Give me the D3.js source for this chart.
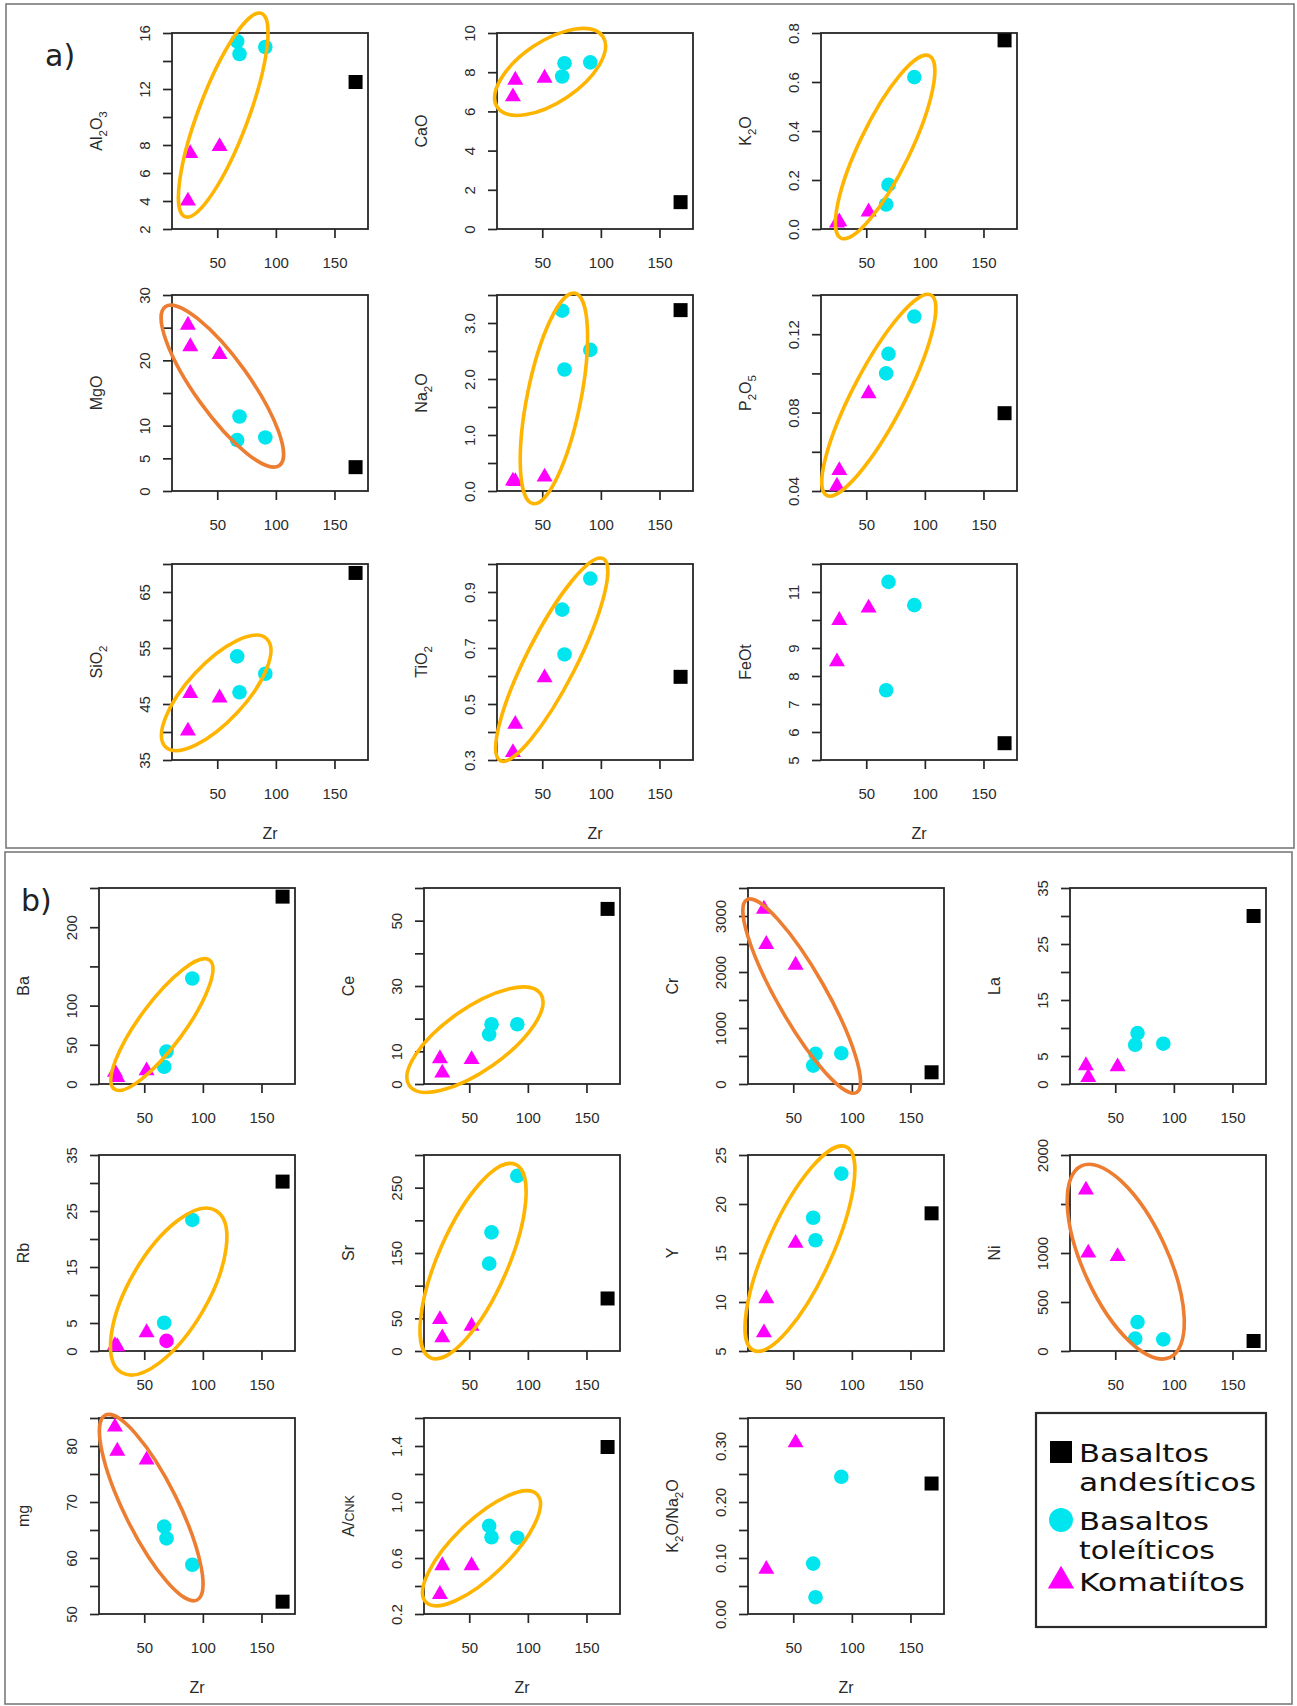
<!DOCTYPE html>
<html>
<head>
<meta charset="utf-8">
<script src="https://cdn.jsdelivr.net/npm/d3@7"></script>
<style>
  body { margin: 0; background: #fff; }
  svg { display: block; }
</style>
</head>
<body>
<script>
// ---------------- data ----------------
// Zr (ppm) of each sample, by group
const zrKomatiitos = [25, 27, 52];
const zrToleiticos = [67, 69, 91];
const zrAndesiticos = [168];
const zrTicks = [50, 100, 150];
const zrDomain = [11.4, 178.6];

// each variable: [komatiítos], [basaltos toleíticos], [basaltos andesíticos]
const Al2O3 = [[4.0, 7.4, 7.9], [15.4, 14.5, 15.0], [12.5]];
const CaO = [[6.75, 7.6, 7.7], [7.78, 8.46, 8.5], [1.37]];
const K2O = [[0.025, 0.03, 0.07], [0.10, 0.18, 0.62], [0.77]];
const MgO = [[25.4, 22.1, 20.9], [7.8, 11.4, 8.2], [3.65]];
const Na2O = [[0.18, 0.17, 0.25], [3.22, 2.17, 2.52], [3.23]];
const P2O5 = [[0.0425, 0.0505, 0.0897], [0.100, 0.110, 0.129], [0.0797]];
const SiO2 = [[40.2, 46.9, 46.1], [53.5, 47.1, 50.4], [68.4]];
const TiO2 = [[0.327, 0.428, 0.594], [0.837, 0.677, 0.948], [0.597]];
const FeOt = [[8.51, 9.99, 10.43], [7.49, 11.36, 10.53], [5.6]];
const Ba = [[15, 8.5, 17], [22, 41.5, 134.6], [239]];
const Ce = [[7.8, 3.4, 7.5], [15.2, 18.3, 18.3], [53.6]];
const Cr = [[3123, 2495, 2124], [329, 538, 550], [209]];
const La = [[3.3, 1.2, 3.1], [7.0, 9.1, 7.2], [30.0]];
const Rb = [[1.0, 0.8, 3.3], [5.05, 1.8, 23.4], [30.25]];
const Sr = [[48.3, 20.4, 38.1], [133.7, 181.5, 268], [80.4]];
const Y = [[6.87, 10.35, 16.0], [18.6, 16.3, 23.1], [19.05]];
const Ni = [[1643, 1000, 965], [126, 295, 119], [102]];
const mg = [[83.4, 79.1, 77.5], [65.6, 63.5, 58.8], [52.2]];
const ACNK = [[0.341, 0.546, 0.546], [0.83, 0.748, 0.745], [1.393]];
const K2ONa2O = [[null, 0.080, 0.306], [0.090, 0.030, 0.245], [0.233]];

// y-axis tick values and the ones that carry a label
const ticksAl2O3 = [2, 4, 6, 8, 10, 12, 14, 16], labAl2O3 = [2, 4, 6, 8, 12, 16];
const ticksCaO = [0, 2, 4, 6, 8, 10], labCaO = [0, 2, 4, 6, 8, 10];
const ticksK2O = [0, 0.2, 0.4, 0.6, 0.8], labK2O = [0, 0.2, 0.4, 0.6, 0.8];
const ticksMgO = [0, 5, 10, 15, 20, 25, 30], labMgO = [0, 5, 10, 20, 30];
const ticksNa2O = [0, 0.5, 1, 1.5, 2, 2.5, 3, 3.5], labNa2O = [0, 1, 2, 3];
const ticksP2O5 = [0.04, 0.06, 0.08, 0.10, 0.12, 0.14], labP2O5 = [0.04, 0.08, 0.12];
const ticksSiO2 = [35, 40, 45, 50, 55, 60, 65, 70], labSiO2 = [35, 45, 55, 65];
const ticksTiO2 = [0.3, 0.4, 0.5, 0.6, 0.7, 0.8, 0.9, 1.0], labTiO2 = [0.3, 0.5, 0.7, 0.9];
const ticksFeOt = [5, 6, 7, 8, 9, 10, 11, 12], labFeOt = [5, 6, 7, 8, 9, 11];
const ticksBa = [0, 50, 100, 150, 200, 250], labBa = [0, 50, 100, 200];
const ticksCe = [0, 10, 20, 30, 40, 50, 60], labCe = [0, 10, 30, 50];
const ticksCr = [0, 500, 1000, 1500, 2000, 2500, 3000, 3500], labCr = [0, 1000, 2000, 3000];
const ticksLa = [0, 5, 10, 15, 20, 25, 30, 35], labLa = [0, 5, 15, 25, 35];
const ticksRb = [0, 5, 10, 15, 20, 25, 30, 35], labRb = [0, 5, 15, 25, 35];
const ticksSr = [0, 50, 100, 150, 200, 250, 300], labSr = [0, 50, 150, 250];
const ticksY = [5, 10, 15, 20, 25], labY = [5, 10, 15, 20, 25];
const ticksNi = [0, 500, 1000, 1500, 2000], labNi = [0, 500, 1000, 2000];
const ticksMg = [50, 55, 60, 65, 70, 75, 80, 85], labMg = [50, 60, 70, 80];
const ticksACNK = [0.2, 0.4, 0.6, 0.8, 1.0, 1.2, 1.4, 1.6], labACNK = [0.2, 0.6, 1.0, 1.4];
const ticksK2ONa2O = [0, 0.05, 0.10, 0.15, 0.20, 0.25, 0.30, 0.35], labK2ONa2O = [0, 0.1, 0.2, 0.3];

// trend ellipses: major-axis end points in data units [Zr1, v1, Zr2, v2]
const ellAl2O3 = [87.7, 17.4, 22.5, 2.88];
const ellCaO = [101.7, 9.82, 11.7, 6.21];
const ellK2O = [103.8, 0.707, 28.4, -0.037];
const ellMgO = [5.7, 28.2, 103, 3.9];
const ellNa2O = [77.9, 3.53, 42, -0.225];
const ellP2O5 = [105.2, 0.14, 16.2, 0.0378];
const ellSiO2 = [92.1, 56.66, 6.1, 37.29];
const ellTiO2 = [102, 1.019, 14.2, 0.2975];
const ellBa = [105.7, 158, 24.4, -6.4];
const ellCe = [110.8, 27.66, -1.1, -0.52];
const ellCr = [10.4, 3291, 104, -151];
const ellRb = [111.1, 25.07, 30.6, -3.85];
const ellSr = [89.4, 285.7, 17.1, -10.4];
const ellY = [95.2, 25.83, 16.2, 5.05];
const ellNi = [21.2, 1889, 96.7, -66];
const ellMg = [16.8, 85.5, 95.1, 52.5];
const ellACNK = [107.9, 1.054, 13.0, 0.285];

const legendLabels = [['Basaltos', 'andesíticos'], ['Basaltos', 'toleíticos'], ['Komatiítos']];

// ---------------- styles / layout ----------------
const W = 1297, H = 1706;
const PW = 196, PH = 196;
const YEL = '#FFB400', ORA = '#ED7D31';
const CYAN = '#00E5EE', MAG = '#FF00FF', BLK = '#000000';
const AXIS = '#262626', TXT = '#2b2b2b';
const FONT = '"Liberation Sans", Arial, Helvetica, sans-serif';
const FONT2 = '"DejaVu Sans", Verdana, sans-serif';

const colsA = [172, 497, 821], rowsA = [33, 295, 564];
const colsB = [99, 424, 748, 1070], rowsB = [888, 1155, 1418];

const panels = [
  { v: Al2O3, t: ticksAl2O3, l: labAl2O3, f: 'd', name: [['Al'], ['2', 'sub'], ['O'], ['3', 'sub']], x: colsA[0], y: rowsA[0], e: ellAl2O3, r: 0.23, c: YEL },
  { v: CaO, t: ticksCaO, l: labCaO, f: 'd', name: [['CaO']], x: colsA[1], y: rowsA[0], e: ellCaO, r: 0.48, c: YEL },
  { v: K2O, t: ticksK2O, l: labK2O, f: '.1f', name: [['K'], ['2', 'sub'], ['O']], x: colsA[2], y: rowsA[0], e: ellK2O, r: 0.25, c: YEL },
  { v: MgO, t: ticksMgO, l: labMgO, f: 'd', name: [['MgO']], x: colsA[0], y: rowsA[1], e: ellMgO, r: 0.28, c: ORA },
  { v: Na2O, t: ticksNa2O, l: labNa2O, f: '.1f', name: [['Na'], ['2', 'sub'], ['O']], x: colsA[1], y: rowsA[1], e: ellNa2O, r: 0.25, c: YEL },
  { v: P2O5, t: ticksP2O5, l: labP2O5, f: '.2f', name: [['P'], ['2', 'sub'], ['O'], ['5', 'sub']], x: colsA[2], y: rowsA[1], e: ellP2O5, r: 0.23, c: YEL },
  { v: SiO2, t: ticksSiO2, l: labSiO2, f: 'd', name: [['SiO'], ['2', 'sub']], x: colsA[0], y: rowsA[2], e: ellSiO2, r: 0.39, c: YEL, zr: true },
  { v: TiO2, t: ticksTiO2, l: labTiO2, f: '.1f', name: [['TiO'], ['2', 'sub']], x: colsA[1], y: rowsA[2], e: ellTiO2, r: 0.22, c: YEL, zr: true },
  { v: FeOt, t: ticksFeOt, l: labFeOt, f: 'd', name: [['FeOt']], x: colsA[2], y: rowsA[2], zr: true },

  { v: Ba, t: ticksBa, l: labBa, f: 'd', name: [['Ba']], x: colsB[0], y: rowsB[0], e: ellBa, r: 0.28, c: YEL },
  { v: Ce, t: ticksCe, l: labCe, f: 'd', name: [['Ce']], x: colsB[1], y: rowsB[0], e: ellCe, r: 0.39, c: YEL },
  { v: Cr, t: ticksCr, l: labCr, f: 'd', name: [['Cr']], x: colsB[2], y: rowsB[0], e: ellCr, r: 0.22, c: ORA },
  { v: La, t: ticksLa, l: labLa, f: 'd', name: [['La']], x: colsB[3], y: rowsB[0] },
  { v: Rb, t: ticksRb, l: labRb, f: 'd', name: [['Rb']], x: colsB[0], y: rowsB[1], e: ellRb, r: 0.42, c: YEL, magentaCircle: 1 },
  { v: Sr, t: ticksSr, l: labSr, f: 'd', name: [['Sr']], x: colsB[1], y: rowsB[1], e: ellSr, r: 0.33, c: YEL },
  { v: Y, t: ticksY, l: labY, f: 'd', name: [['Y']], x: colsB[2], y: rowsB[1], e: ellY, r: 0.29, c: YEL },
  { v: Ni, t: ticksNi, l: labNi, f: 'd', name: [['Ni']], x: colsB[3], y: rowsB[1], e: ellNi, r: 0.4, c: ORA },
  { v: mg, t: ticksMg, l: labMg, f: 'd', name: [['mg']], x: colsB[0], y: rowsB[2], e: ellMg, r: 0.26, c: ORA, zr: true },
  { v: ACNK, t: ticksACNK, l: labACNK, f: '.1f', name: [['A/'], ['CNK', 'small']], x: colsB[1], y: rowsB[2], e: ellACNK, r: 0.36, c: YEL, zr: true },
  { v: K2ONa2O, t: ticksK2ONa2O, l: labK2ONa2O, f: '.2f', name: [['K'], ['2', 'sub'], ['O/Na'], ['2', 'sub'], ['O']], x: colsB[2], y: rowsB[2], zr: true }
];

// ---------------- drawing ----------------
const svg = d3.select('body').append('svg')
  .attr('width', W).attr('height', H).attr('viewBox', `0 0 ${W} ${H}`);

// outer frames of the two figure parts
svg.append('rect').attr('x', 6).attr('y', 4).attr('width', 1288).attr('height', 844)
  .attr('fill', 'none').attr('stroke', '#7a7a7a').attr('stroke-width', 1.6);
svg.append('rect').attr('x', 5).attr('y', 852).attr('width', 1287).attr('height', 852)
  .attr('fill', 'none').attr('stroke', '#7a7a7a').attr('stroke-width', 1.6);

svg.append('text').attr('x', 45).attr('y', 66).text('a)')
  .attr('font-family', FONT2).attr('font-size', 30).attr('fill', '#222');
svg.append('text').attr('x', 21).attr('y', 911).text('b)')
  .attr('font-family', FONT2).attr('font-size', 30).attr('fill', '#222');

const symCircle = d3.symbol().type(d3.symbolCircle).size(Math.PI * 7.3 * 7.3);
const symSquare = d3.symbol().type(d3.symbolSquare).size(14 * 14);
const symTri = d3.symbol().type(d3.symbolTriangle).size(111);

function richText(sel, parts, size) {
  let shift = 0;
  parts.forEach(([t, kind]) => {
    const want = kind === 'sub' ? size * 0.3 : 0;
    const ts = sel.append('tspan').text(t).attr('dy', want - shift);
    if (kind === 'sub') ts.attr('font-size', size * 0.72);
    if (kind === 'small') ts.attr('font-size', size * 0.78);
    shift = want;
  });
}

function drawPanel(p) {
  const g = svg.append('g');
  const x = d3.scaleLinear().domain(zrDomain).range([p.x, p.x + PW]);
  const y = d3.scaleLinear().domain([p.t[0], p.t[p.t.length - 1]]).range([p.y + PH, p.y]);

  // x axis
  const gx = g.append('g').attr('transform', `translate(0,${p.y + PH})`)
    .call(d3.axisBottom(x).tickValues(zrTicks).tickSize(9).tickPadding(19).tickFormat(d3.format('d')));
  gx.select('.domain').remove();

  // y axis, labels parallel to the axis
  const labelled = new Set(p.l.map(v => +v.toFixed(4)));
  const fmt = d3.format(p.f);
  const gy = g.append('g').attr('transform', `translate(${p.x},0)`)
    .call(d3.axisLeft(y).tickValues(p.t).tickSize(9)
      .tickFormat(d => labelled.has(+d.toFixed(4)) ? fmt(d) : ''));
  gy.select('.domain').remove();
  gy.selectAll('text')
    .attr('x', 0).attr('y', -27).attr('dy', '0.35em')
    .attr('text-anchor', 'middle').attr('transform', 'rotate(-90)');

  [gx, gy].forEach(a => {
    a.attr('font-family', FONT).attr('font-size', 15);
    a.selectAll('.tick line').attr('stroke', AXIS).attr('stroke-width', 1.7);
    a.selectAll('.tick text').attr('fill', TXT);
  });

  // plot box
  g.append('rect').attr('x', p.x).attr('y', p.y).attr('width', PW).attr('height', PH)
    .attr('fill', 'none').attr('stroke', AXIS).attr('stroke-width', 1.8);

  // y title
  const ty = g.append('text')
    .attr('transform', `translate(${p.x - 70},${p.y + PH / 2}) rotate(-90)`)
    .attr('text-anchor', 'middle').attr('dy', '0.35em')
    .attr('font-family', FONT).attr('font-size', 16).attr('fill', TXT);
  richText(ty, p.name, 16);

  if (p.zr) {
    g.append('text').attr('x', p.x + PW / 2).attr('y', p.y + PH + 79)
      .attr('text-anchor', 'middle').attr('font-family', FONT).attr('font-size', 16)
      .attr('fill', TXT).text('Zr');
  }

  // points: andesitic basalt, tholeiitic basalts, komatiites
  const pts = [];
  p.v[2].forEach((v, i) => { if (v != null) pts.push({ zr: zrAndesiticos[i], v, sym: symSquare, fill: BLK }); });
  p.v[1].forEach((v, i) => {
    if (v != null) pts.push({ zr: zrToleiticos[i], v, sym: symCircle, fill: p.magentaCircle === i ? MAG : CYAN });
  });
  p.v[0].forEach((v, i) => { if (v != null) pts.push({ zr: zrKomatiitos[i], v, sym: symTri, fill: MAG }); });

  g.append('g').selectAll('path').data(pts).join('path')
    .attr('transform', d => `translate(${x(d.zr)},${y(d.v)})`)
    .attr('d', d => d.sym())
    .attr('fill', d => d.fill);

  // trend ellipse
  if (p.e) {
    const x1 = x(p.e[0]), y1 = y(p.e[1]), x2 = x(p.e[2]), y2 = y(p.e[3]);
    const cx = (x1 + x2) / 2, cy = (y1 + y2) / 2;
    const a = Math.hypot(x2 - x1, y2 - y1) / 2;
    const ang = Math.atan2(y2 - y1, x2 - x1) * 180 / Math.PI;
    g.append('ellipse').attr('cx', cx).attr('cy', cy).attr('rx', a).attr('ry', a * p.r)
      .attr('transform', `rotate(${ang},${cx},${cy})`)
      .attr('fill', 'none').attr('stroke', p.c).attr('stroke-width', 3.6);
  }
}

panels.forEach(drawPanel);

// legend
const lg = svg.append('g');
lg.append('rect').attr('x', 1036).attr('y', 1413).attr('width', 230).attr('height', 214)
  .attr('fill', '#fff').attr('stroke', '#2a2a2a').attr('stroke-width', 2.2);
const legSyms = [
  d3.symbol().type(d3.symbolSquare).size(22 * 22),
  d3.symbol().type(d3.symbolCircle).size(Math.PI * 12 * 12),
  d3.symbol().type(d3.symbolTriangle).size(300)
];
const legFill = [BLK, CYAN, MAG];
const legRowY = [1452, 1520, 1581];
// widths of each legend line, so the lines keep their full span at a compact size
const legLineWidth = [[130, 177], [130, 136], [166]];
legendLabels.forEach((lines, i) => {
  lg.append('path').attr('transform', `translate(1061,${legRowY[i]})`)
    .attr('d', legSyms[i]()).attr('fill', legFill[i]);
  lines.forEach((ln, k) => {
    lg.append('text').attr('font-family', FONT2).attr('font-size', 25).attr('fill', '#111')
      .attr('x', 1079).attr('y', legRowY[i] + 9.5 + k * 29.4)
      .attr('textLength', legLineWidth[i][k]).attr('lengthAdjust', 'spacingAndGlyphs')
      .text(ln);
  });
});
</script>
</body>
</html>
